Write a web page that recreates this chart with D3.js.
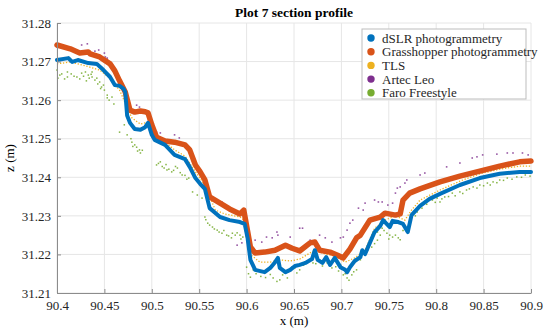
<!DOCTYPE html>
<html lang="en">
<head>
<meta charset="UTF-8">
<title>Plot 7 section profile</title>
<script src="https://cdnjs.cloudflare.com/ajax/libs/d3/7.8.5/d3.min.js"></script>
<style>
    body { margin: 0; background: #fff; }
    svg { font-family: "Liberation Serif", "Times New Roman", serif; }
    .grid line { stroke: #e6e6e6; stroke-width: 1; }
    .axis path, .axis line { stroke: #8c8c8c; }
</style>
</head>
<body>
<svg id="chart"></svg>
<script>
// series: [x (m), z (m)]
const dslr = [
    [90.400, 31.2704], [90.412, 31.2709], [90.416, 31.2699], [90.422, 31.2704], [90.433, 31.2696],
    [90.442, 31.2694], [90.449, 31.2678], [90.456, 31.2660], [90.461, 31.2639], [90.466, 31.2637],
    [90.470, 31.2630], [90.472, 31.2621], [90.474, 31.2560], [90.477, 31.2541], [90.482, 31.2525],
    [90.488, 31.2523], [90.493, 31.2530], [90.496, 31.2541], [90.500, 31.2510], [90.503, 31.2497],
    [90.514, 31.2484], [90.524, 31.2458], [90.535, 31.2447], [90.540, 31.2427], [90.546, 31.2398],
    [90.551, 31.2383], [90.556, 31.2370], [90.561, 31.2320], [90.572, 31.2297], [90.582, 31.2289],
    [90.593, 31.2284], [90.598, 31.2279], [90.601, 31.2243], [90.604, 31.2186], [90.609, 31.2160],
    [90.619, 31.2154], [90.625, 31.2165], [90.630, 31.2180], [90.633, 31.2191], [90.635, 31.2165],
    [90.641, 31.2154], [90.646, 31.2160], [90.651, 31.2170], [90.656, 31.2173], [90.662, 31.2178],
    [90.669, 31.2188], [90.672, 31.2211], [90.675, 31.2186], [90.680, 31.2178], [90.684, 31.2193],
    [90.688, 31.2173], [90.693, 31.2191], [90.699, 31.2167], [90.704, 31.2160], [90.706, 31.2154],
    [90.709, 31.2167], [90.714, 31.2183], [90.720, 31.2193], [90.722, 31.2211], [90.725, 31.2201],
    [90.730, 31.2230], [90.735, 31.2258], [90.741, 31.2274], [90.744, 31.2289], [90.751, 31.2271],
    [90.754, 31.2287], [90.760, 31.2284], [90.765, 31.2279], [90.770, 31.2258], [90.774, 31.2302],
    [90.783, 31.2326], [90.793, 31.2344], [90.804, 31.2357], [90.825, 31.2380], [90.846, 31.2398],
    [90.867, 31.2409], [90.888, 31.2414], [90.900, 31.2414]
];

const grasshopper = [
    [90.400, 31.2743], [90.414, 31.2733], [90.424, 31.2722], [90.433, 31.2725], [90.435, 31.2720],
    [90.445, 31.2712], [90.456, 31.2694], [90.461, 31.2676], [90.466, 31.2650], [90.472, 31.2621],
    [90.477, 31.2574], [90.482, 31.2569], [90.488, 31.2572], [90.493, 31.2570], [90.496, 31.2567],
    [90.500, 31.2536], [90.505, 31.2504], [90.514, 31.2494], [90.524, 31.2491], [90.535, 31.2484],
    [90.540, 31.2471], [90.546, 31.2432], [90.551, 31.2414], [90.556, 31.2393], [90.561, 31.2349],
    [90.572, 31.2333], [90.582, 31.2318], [90.593, 31.2305], [90.597, 31.2315], [90.601, 31.2261],
    [90.604, 31.2219], [90.609, 31.2204], [90.619, 31.2206], [90.630, 31.2211], [90.641, 31.2224],
    [90.648, 31.2216], [90.656, 31.2209], [90.667, 31.2230], [90.672, 31.2232], [90.677, 31.2211],
    [90.688, 31.2206], [90.696, 31.2198], [90.702, 31.2191], [90.709, 31.2214], [90.716, 31.2243],
    [90.720, 31.2250], [90.730, 31.2289], [90.741, 31.2297], [90.746, 31.2307], [90.757, 31.2302],
    [90.762, 31.2305], [90.765, 31.2341], [90.772, 31.2359], [90.783, 31.2370], [90.804, 31.2388],
    [90.825, 31.2403], [90.846, 31.2416], [90.867, 31.2429], [90.888, 31.2440], [90.900, 31.2442]
];

const tls = [
    [90.400, 31.2694], [90.414, 31.2699], [90.430, 31.2689], [90.445, 31.2678], [90.456, 31.2657],
    [90.466, 31.2626], [90.473, 31.2587], [90.479, 31.2554], [90.488, 31.2538], [90.496, 31.2543],
    [90.503, 31.2507], [90.514, 31.2491], [90.524, 31.2471], [90.535, 31.2455], [90.546, 31.2414],
    [90.556, 31.2380], [90.567, 31.2315], [90.577, 31.2305], [90.593, 31.2297], [90.600, 31.2284],
    [90.605, 31.2198], [90.614, 31.2180], [90.625, 31.2180], [90.635, 31.2186], [90.646, 31.2183],
    [90.656, 31.2188], [90.672, 31.2211], [90.683, 31.2201], [90.693, 31.2196], [90.704, 31.2180],
    [90.714, 31.2191], [90.725, 31.2211], [90.735, 31.2268], [90.746, 31.2289], [90.757, 31.2300],
    [90.767, 31.2289], [90.774, 31.2315], [90.783, 31.2341], [90.804, 31.2367], [90.825, 31.2390],
    [90.846, 31.2409], [90.867, 31.2421], [90.888, 31.2429], [90.900, 31.2429]
];

const artec = [
    [90.400, 31.2738], [90.426, 31.2743], [90.432, 31.2746], [90.440, 31.2727], [90.444, 31.2730],
    [90.450, 31.2722], [90.451, 31.2712], [90.453, 31.2709], [90.461, 31.2639], [90.464, 31.2652],
    [90.484, 31.2587], [90.487, 31.2582], [90.505, 31.2517], [90.509, 31.2515], [90.524, 31.2510],
    [90.529, 31.2502], [90.569, 31.2341], [90.574, 31.2336], [90.590, 31.2224], [90.595, 31.2230],
    [90.609, 31.2237], [90.616, 31.2232], [90.621, 31.2245], [90.627, 31.2243], [90.632, 31.2258],
    [90.633, 31.2250], [90.646, 31.2245], [90.656, 31.2268], [90.659, 31.2268], [90.667, 31.2237],
    [90.677, 31.2250], [90.683, 31.2243], [90.690, 31.2232], [90.699, 31.2243], [90.702, 31.2245],
    [90.706, 31.2263], [90.709, 31.2281], [90.712, 31.2289], [90.718, 31.2320], [90.723, 31.2315],
    [90.725, 31.2333], [90.735, 31.2341], [90.739, 31.2336], [90.743, 31.2336], [90.749, 31.2328],
    [90.754, 31.2333], [90.757, 31.2359], [90.759, 31.2372], [90.762, 31.2375], [90.767, 31.2385],
    [90.769, 31.2393], [90.783, 31.2406], [90.788, 31.2411], [90.811, 31.2427], [90.825, 31.2437],
    [90.838, 31.2450], [90.843, 31.2453], [90.849, 31.2458], [90.864, 31.2460], [90.875, 31.2463],
    [90.881, 31.2463], [90.891, 31.2463], [90.897, 31.2458]
];

const faro = [
    [90.400, 31.2678], [90.401, 31.2657], [90.403, 31.2665], [90.411, 31.2673], [90.411, 31.2660],
    [90.421, 31.2660], [90.426, 31.2670], [90.430, 31.2673], [90.433, 31.2665], [90.434, 31.2657],
    [90.437, 31.2673], [90.437, 31.2660], [90.442, 31.2657], [90.445, 31.2647], [90.447, 31.2634],
    [90.449, 31.2639], [90.450, 31.2626], [90.453, 31.2613], [90.458, 31.2608], [90.453, 31.2606],
    [90.405, 31.2668], [90.408, 31.2655], [90.415, 31.2668], [90.418, 31.2662], [90.424, 31.2655],
    [90.428, 31.2662], [90.431, 31.2650], [90.436, 31.2667], [90.440, 31.2652], [90.443, 31.2642],
    [90.446, 31.2630], [90.455, 31.2600], [90.460, 31.2590],
    [90.466, 31.2517], [90.471, 31.2536], [90.479, 31.2491], [90.482, 31.2484], [90.487, 31.2471],
    [90.488, 31.2463], [90.484, 31.2478], [90.474, 31.2510], [90.478, 31.2500], [90.480, 31.2480],
    [90.485, 31.2468], [90.490, 31.2470],
    [90.505, 31.2432], [90.509, 31.2440], [90.513, 31.2424], [90.516, 31.2419], [90.521, 31.2414],
    [90.527, 31.2424], [90.532, 31.2406], [90.539, 31.2398], [90.507, 31.2436], [90.511, 31.2428],
    [90.515, 31.2433], [90.518, 31.2421], [90.523, 31.2418], [90.525, 31.2428], [90.530, 31.2412],
    [90.535, 31.2405], [90.537, 31.2395],
    [90.543, 31.2362], [90.548, 31.2354], [90.553, 31.2346], [90.556, 31.2297], [90.559, 31.2281],
    [90.564, 31.2271], [90.569, 31.2263], [90.574, 31.2255], [90.579, 31.2250], [90.585, 31.2255],
    [90.588, 31.2250], [90.593, 31.2250], [90.596, 31.2245], [90.557, 31.2290], [90.561, 31.2276],
    [90.566, 31.2266], [90.571, 31.2258], [90.576, 31.2262], [90.581, 31.2248], [90.584, 31.2243],
    [90.590, 31.2256], [90.594, 31.2240],
    [90.600, 31.2167], [90.604, 31.2141], [90.607, 31.2160], [90.628, 31.2139], [90.635, 31.2134],
    [90.638, 31.2147], [90.643, 31.2139], [90.646, 31.2160], [90.651, 31.2165], [90.656, 31.2160],
    [90.669, 31.2186], [90.670, 31.2178], [90.677, 31.2186], [90.685, 31.2178], [90.690, 31.2165],
    [90.699, 31.2173], [90.702, 31.2147], [90.706, 31.2139], [90.711, 31.2147], [90.716, 31.2160],
    [90.602, 31.2150], [90.610, 31.2150], [90.615, 31.2143], [90.620, 31.2140], [90.625, 31.2148],
    [90.632, 31.2130], [90.640, 31.2152], [90.648, 31.2168], [90.653, 31.2152], [90.660, 31.2172],
    [90.665, 31.2180], [90.673, 31.2176], [90.680, 31.2170], [90.688, 31.2180], [90.694, 31.2168],
    [90.697, 31.2157], [90.704, 31.2150], [90.708, 31.2133], [90.713, 31.2155],
    [90.720, 31.2186], [90.725, 31.2204], [90.732, 31.2219], [90.732, 31.2237], [90.738, 31.2237],
    [90.738, 31.2258], [90.743, 31.2268], [90.748, 31.2255], [90.751, 31.2250], [90.754, 31.2245],
    [90.760, 31.2243], [90.728, 31.2212], [90.735, 31.2228], [90.741, 31.2250], [90.745, 31.2262],
    [90.750, 31.2240], [90.757, 31.2250], [90.762, 31.2238], [90.765, 31.2262],
    [90.774, 31.2297], [90.780, 31.2310], [90.796, 31.2341], [90.801, 31.2346], [90.804, 31.2336],
    [90.809, 31.2349], [90.817, 31.2359], [90.825, 31.2362], [90.832, 31.2367], [90.839, 31.2375],
    [90.846, 31.2380], [90.854, 31.2385], [90.860, 31.2388], [90.867, 31.2393], [90.875, 31.2398],
    [90.885, 31.2401], [90.894, 31.2406], [90.897, 31.2411], [90.778, 31.2300], [90.785, 31.2320],
    [90.790, 31.2330], [90.799, 31.2335], [90.806, 31.2344], [90.813, 31.2350], [90.820, 31.2352],
    [90.828, 31.2358], [90.835, 31.2370], [90.843, 31.2372], [90.850, 31.2378], [90.857, 31.2380],
    [90.864, 31.2386], [90.871, 31.2392], [90.880, 31.2395], [90.890, 31.2400], [90.899, 31.2403]
];

const seriesNames = ["dSLR photogrammetry", "Grasshopper photogrammetry", "TLS", "Artec Leo", "Faro Freestyle"];
const seriesColors = ["#0072BD", "#D95319", "#EDB120", "#7E2F8E", "#77AC30"];

const xTicks = [90.4, 90.45, 90.5, 90.55, 90.6, 90.65, 90.7, 90.75, 90.8, 90.85, 90.9];
const yTicks = [31.21, 31.22, 31.23, 31.24, 31.25, 31.26, 31.27, 31.28];

const W = 550, H = 333;
const margin = {left: 57, right: 19, top: 23, bottom: 40};
const width = W - margin.left - margin.right,
      height = H - margin.top - margin.bottom;
const FONT = '"Liberation Serif", "Times New Roman", serif';

const svg = d3.select("#chart").attr("width", W).attr("height", H);
const g = svg.append("g").attr("transform", `translate(${margin.left},${margin.top})`);

const x = d3.scaleLinear().domain([90.4, 90.9]).range([0, width]);
const y = d3.scaleLinear().domain([31.21, 31.28]).range([height, 0]);

// grid
g.append("g").attr("class", "grid")
    .selectAll("line").data(xTicks).join("line")
    .attr("x1", d => x(d)).attr("x2", d => x(d))
    .attr("y1", 0).attr("y2", height);
g.append("g").attr("class", "grid")
    .selectAll("line").data(yTicks).join("line")
    .attr("x1", 0).attr("x2", width)
    .attr("y1", d => y(d)).attr("y2", d => y(d));

const plot = g.append("g");

// Faro points
plot.append("g").selectAll("rect").data(faro).join("rect")
    .attr("x", d => x(d[0]) - 0.75).attr("y", d => y(d[1]) - 0.75)
    .attr("width", 1.5).attr("height", 1.5)
    .attr("fill", seriesColors[4]).attr("opacity", 0.9);

// Artec points
plot.append("g").selectAll("rect").data(artec).join("rect")
    .attr("x", d => x(d[0]) - 0.8).attr("y", d => y(d[1]) - 0.8)
    .attr("width", 1.6).attr("height", 1.6)
    .attr("fill", seriesColors[3]).attr("opacity", 0.8);

const line = d3.line().x(d => x(d[0])).y(d => y(d[1]));

// TLS as dotted trace
plot.append("path").datum(tls)
    .attr("d", line).attr("fill", "none")
    .attr("stroke", seriesColors[2]).attr("stroke-width", 1.3)
    .attr("stroke-dasharray", "1.3,1.7");

// Grasshopper band
plot.append("path").datum(grasshopper)
    .attr("d", line).attr("fill", "none")
    .attr("stroke", seriesColors[1]).attr("stroke-width", 5.5)
    .attr("stroke-linejoin", "round").attr("stroke-linecap", "round");

// dSLR band
plot.append("path").datum(dslr)
    .attr("d", line).attr("fill", "none")
    .attr("stroke", seriesColors[0]).attr("stroke-width", 4)
    .attr("stroke-linejoin", "round").attr("stroke-linecap", "round");

// axes
const xAxis = d3.axisBottom(x).tickValues(xTicks)
    .tickFormat(d3.format("")).tickSizeInner(-4).tickSizeOuter(0).tickPadding(8);
const gx = g.append("g").attr("class", "axis")
    .attr("transform", `translate(0,${height})`)
    .call(xAxis);

const yAxis = d3.axisLeft(y).tickValues(yTicks)
    .tickFormat(d3.format(".2f")).tickSizeInner(-4).tickSizeOuter(0).tickPadding(6);
const gy = g.append("g").attr("class", "axis").call(yAxis);

[gx, gy].forEach(a => {
    a.attr("font-family", FONT).attr("font-size", 13);
    a.selectAll("text").style("font-family", FONT).style("font-size", "13px").attr("fill", "#262626");
});

// title and labels
svg.append("text")
    .attr("x", margin.left + width / 2).attr("y", 17)
    .attr("text-anchor", "middle")
    .style("font-family", FONT)
    .style("font-size", "13.5px").style("font-weight", "bold")
    .text("Plot 7 section profile");

svg.append("text")
    .attr("x", margin.left + width / 2).attr("y", 325)
    .attr("text-anchor", "middle")
    .style("font-family", FONT).style("font-size", "13px")
    .text("x (m)");

svg.append("text")
    .attr("transform", `translate(14,${margin.top + height / 2}) rotate(-90)`)
    .attr("text-anchor", "middle")
    .style("font-family", FONT).style("font-size", "13px")
    .text("z (m)");

// legend
const legend = svg.append("g").attr("transform", "translate(362,29)");
legend.append("rect")
    .attr("width", 164).attr("height", 70)
    .attr("fill", "#fff").attr("stroke", "#bdbdbd");
seriesNames.forEach((name, i) => {
    const row = legend.append("g").attr("transform", `translate(0,${9 + i * 13.7})`);
    row.append("circle").attr("cx", 9).attr("cy", 0).attr("r", 3.7).attr("fill", seriesColors[i]);
    row.append("text").attr("x", 20).attr("y", 4.5)
        .style("font-family", FONT).style("font-size", "13px").attr("fill", "#262626")
        .text(name);
});
</script>
</body>
</html>
